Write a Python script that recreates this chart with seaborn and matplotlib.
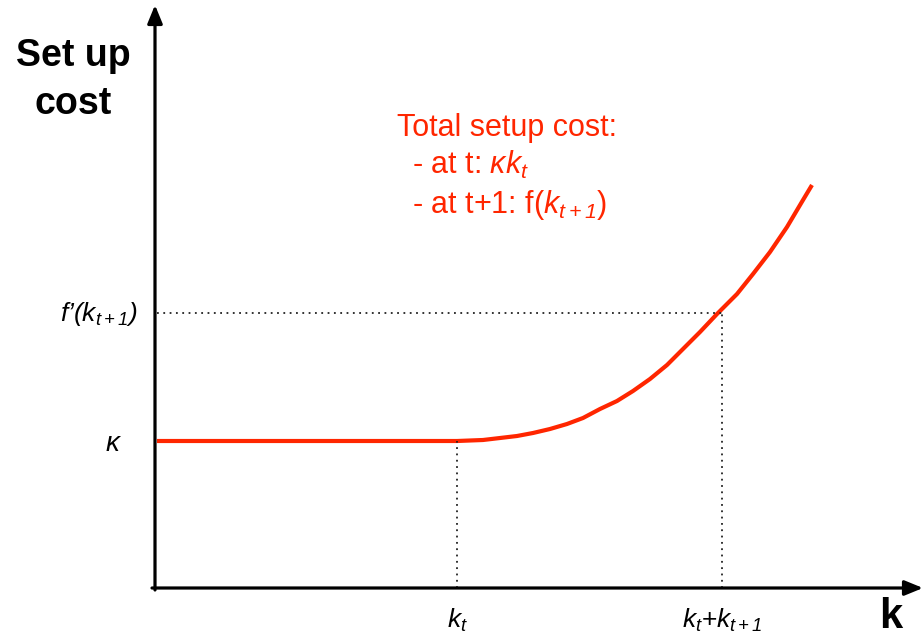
import numpy as np
import pandas as pd
import matplotlib
matplotlib.use("Agg")
import matplotlib.pyplot as plt
import seaborn as sns

# Values (k on x, set up cost on y)
kappa = 1.47          # flat cost level
k_t = 3.02            # kink point
k_t_next = 5.67       # k_t + k_{t+1}
f_prime = 2.75        # cost level at k_t + k_{t+1}

curve_k = [0.02, 3.02, 3.28, 3.45, 3.62, 3.78, 3.95, 4.12, 4.28, 4.45, 4.62, 4.78,
           4.95, 5.12, 5.28, 5.45, 5.62, 5.82, 5.98, 6.15, 6.32, 6.48, 6.57]
curve_cost = [1.47, 1.47, 1.48, 1.50, 1.52, 1.55, 1.59, 1.64, 1.70, 1.79, 1.87, 1.97,
              2.09, 2.23, 2.39, 2.56, 2.74, 2.94, 3.14, 3.36, 3.61, 3.88, 4.03]

red = "#FF2600"

sns.set_style("white")
plt.rcParams["font.family"] = ["Liberation Sans", "DejaVu Sans"]
plt.rcParams["text.color"] = "black"
plt.rcParams["mathtext.fontset"] = "custom"
plt.rcParams["mathtext.rm"] = "Liberation Sans:italic"
plt.rcParams["mathtext.it"] = "Liberation Sans:italic"
plt.rcParams["mathtext.bf"] = "Liberation Sans:bold"

fig = plt.figure(figsize=(9.23, 6.37), dpi=100)
ax = fig.add_axes([0, 0, 1, 1])
ax.set_xlim(-1.55, 7.68)
ax.set_ylim(-0.49, 5.88)
ax.axis("off")

df = pd.DataFrame({"k": curve_k, "cost": curve_cost})
sns.lineplot(data=df, x="k", y="cost", color=red, lw=3, ax=ax, sort=False)
for ln in ax.lines:
    ln.set_solid_joinstyle("round")
    ln.set_solid_capstyle("butt")

# dotted guides
dot = dict(color="#222222", lw=1.3, ls=(0, (1, 2.5)))
ax.plot([0.02, k_t_next], [f_prime, f_prime], **dot)
ax.plot([k_t, k_t], [0, kappa], **dot)
ax.plot([k_t_next, k_t_next], [0, f_prime], **dot)

# axes arrows
arrow = dict(arrowstyle="-|>,head_length=1.1,head_width=0.45", color="black", lw=2.3,
             shrinkA=0, shrinkB=0)
ax.annotate("", xy=(-0.0, 5.83), xytext=(-0.0, -0.02), arrowprops=arrow)
ax.annotate("", xy=(7.68, 0.0), xytext=(-0.03, 0.0), arrowprops=arrow)

# axis titles
ax.text(-0.82, 5.08, "Set up\ncost", fontsize=27, fontweight="bold", ha="center",
        va="center", linespacing=1.45)
ax.text(7.36, -0.29, "k", fontsize=30, fontweight="bold", ha="center", va="center")

# tick-like labels
ax.text(-0.18, f_prime - 0.01, "f’(" + "$k_{t+1}$" + ")", fontsize=19, style="italic",
        ha="right", va="center")
ax.text(-0.33, kappa - 0.03, r"$\kappa$", fontsize=20, ha="right", va="center")
ax.text(k_t, -0.32, r"$k_t$", fontsize=19, ha="center", va="center")
ax.text(k_t_next, -0.32, r"$k_t$+$k_{t+1}$", fontsize=19, ha="center", va="center")

# annotation
ax.text(2.42, 4.60, "Total setup cost:", fontsize=22, color=red, ha="left", va="center")
ax.text(2.57, 4.23, r"- at t: $\kappa k_t$", fontsize=22, color=red, ha="left", va="center")
ax.text(2.57, 3.83, "- at t+1: f(" + r"$k_{t+1}$" + ")", fontsize=22, color=red,
        ha="left", va="center")

fig.savefig("out.png", dpi=100)
